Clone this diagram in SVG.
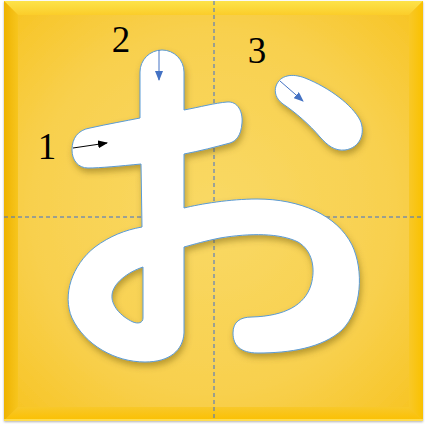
<svg xmlns="http://www.w3.org/2000/svg" width="425" height="425" viewBox="0 0 425 425">
<defs>
<radialGradient id="face" cx="0.5" cy="0.5" r="0.72">
<stop offset="0" stop-color="#f9d965"/>
<stop offset="0.6" stop-color="#f8d04e"/>
<stop offset="1" stop-color="#f7c21c"/>
</radialGradient>
<linearGradient id="topB" x1="0" y1="0" x2="0" y2="1">
<stop offset="0" stop-color="#fde34a"/>
<stop offset="1" stop-color="#fbcd2a"/>
</linearGradient>
<linearGradient id="leftB" x1="0" y1="0" x2="1" y2="0">
<stop offset="0" stop-color="#eeb300"/>
<stop offset="1" stop-color="#f7c51e"/>
</linearGradient>
<linearGradient id="rightB" x1="1" y1="0" x2="0" y2="0">
<stop offset="0" stop-color="#f9c100"/>
<stop offset="1" stop-color="#f8c828"/>
</linearGradient>
<linearGradient id="botB" x1="0" y1="1" x2="0" y2="0">
<stop offset="0" stop-color="#fbc000"/>
<stop offset="1" stop-color="#f8c82a"/>
</linearGradient>
<filter id="sh" x="-20%" y="-20%" width="140%" height="140%">
<feDropShadow dx="1.5" dy="4" stdDeviation="3" flood-color="#5a4300" flood-opacity="0.4"/>
</filter>
<filter id="frameSh" x="-5%" y="-5%" width="110%" height="110%">
<feDropShadow dx="0" dy="1" stdDeviation="1.2" flood-color="#000" flood-opacity="0.3"/>
</filter>
<marker id="ahBlack" markerUnits="userSpaceOnUse" markerWidth="10" markerHeight="8" refX="9" refY="4" orient="auto">
<path d="M0,0 L10,4 L0,8 Z" fill="#000"/>
</marker>
<marker id="ahBlue" markerUnits="userSpaceOnUse" markerWidth="10" markerHeight="8" refX="9" refY="4" orient="auto">
<path d="M0,0 L10,4 L0,8 Z" fill="#4472c4"/>
</marker>
</defs>
<style>
.guide{stroke:#3f6fd0;stroke-width:1;stroke-dasharray:4 3;fill:none}
.glyph{fill:#fff;stroke:#5b9bd5;stroke-width:1;filter:url(#sh)}
.num{font-family:"Liberation Serif","Times New Roman",serif;font-size:37px;fill:#000;text-anchor:middle}
.arr{fill:none;stroke-width:1}
</style>
<g id="board">
<rect x="4" y="1" width="419" height="420" fill="url(#face)" filter="url(#frameSh)"/>
<polygon points="4,1 423,1 409,15 18,15" fill="url(#topB)"/>
<polygon points="4,1 18,15 18,407 4,421" fill="url(#leftB)"/>
<polygon points="423,1 423,421 409,407 409,15" fill="url(#rightB)"/>
<polygon points="4,421 18,407 409,407 423,421" fill="url(#botB)"/>
<line x1="4" y1="420" x2="423" y2="420" stroke="#ffe66a" stroke-width="1.5"/>
</g>
<g id="guides">
<line class="guide" x1="214" y1="1" x2="214" y2="421"/>
<line class="guide" x1="4" y1="217" x2="423" y2="217"/>
</g>
<g id="stroke12">
<path class="glyph" fill-rule="evenodd" d="M140,72 A22,22 0 0 1 184,72 L184,110 C200,107 215,103 227,102 C238,101 243,112 242,123 C241,136 236,141 230,143 C215,147 200,151 184,154 L184,208 C200,204 230,199 257,199 C300,199 337,215 352,245 C364,270 362,310 342,330 C322,348 290,353 258,353 C240,353 233,345 233,333 C233,322 240,317 252,317 C285,316 305,305 311,285 C316,268 312,250 298,242 C280,233 250,233 220,238 C205,241 195,244 184,247 L184,333 C183,350 170,362 145,362 C115,362 85,345 72,318 C62,295 72,265 95,247 C110,236 125,230 142,227 L141,164 C120,166 100,168 88,168 C78,168 72,160 72,150 C72,138 78,130 90,128 C108,124 125,121 140,118 Z M143,267 L143,318 C143,323 138,324 133,322 C120,316 111,305 112,295 C113,283 128,272 143,267 Z"/>
</g>
<g id="stroke3">
<path class="glyph" d="M276,86 C280,75 292,73 305,78 C330,88 352,105 360,120 C366,133 360,148 345,150 C335,151 328,146 320,137 C310,125 295,112 283,104 C276,99 274,92 276,86 Z"/>
</g>
<g id="connectors">
<line class="arr" x1="73" y1="148" x2="107" y2="143" stroke="#000" marker-end="url(#ahBlack)"/>
<line class="arr" x1="159" y1="50" x2="159" y2="80" stroke="#4472c4" marker-end="url(#ahBlue)"/>
<line class="arr" x1="280" y1="81" x2="303" y2="101" stroke="#4472c4" marker-end="url(#ahBlue)"/>
</g>
<g id="labels">
<text class="num" x="47" y="159">1</text>
<text class="num" x="121" y="52">2</text>
<text class="num" x="257" y="63">3</text>
</g>
</svg>
